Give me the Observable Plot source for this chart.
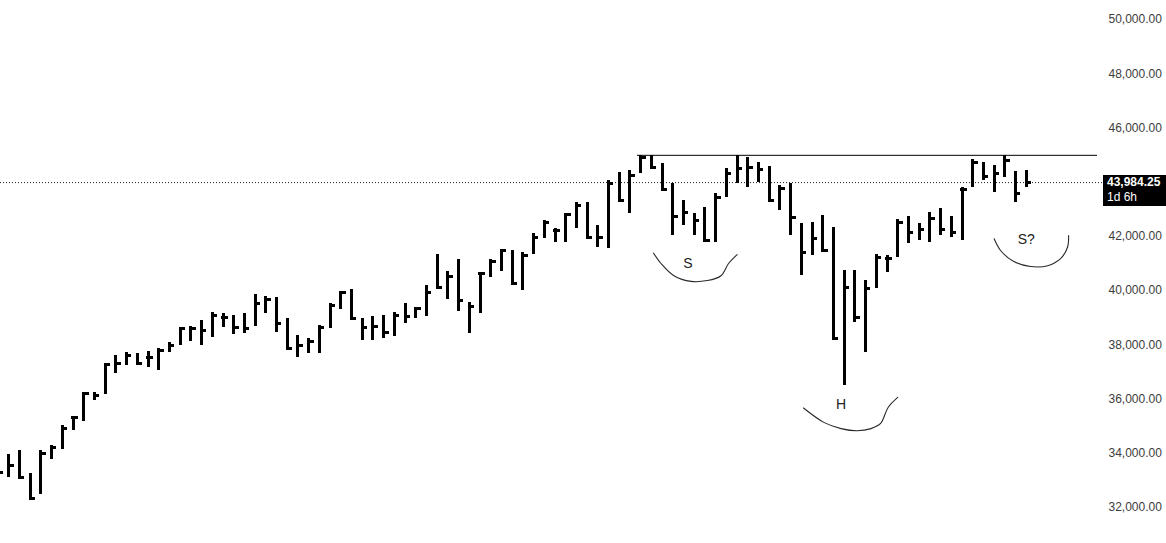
<!DOCTYPE html>
<html>
<head>
<meta charset="utf-8">
<script src="https://cdn.jsdelivr.net/npm/d3@7"></script>
<script src="https://cdn.jsdelivr.net/npm/@observablehq/plot@0.6"></script>
<style>
  html, body { margin: 0; padding: 0; background: #ffffff; }
  #wrap { position: relative; width: 1166px; height: 543px; overflow: hidden; }
  #lastbox { position: absolute; background: #000; color: #fff; font-family: "Liberation Sans", Arial, sans-serif; font-size: 12px; line-height: 15px; padding: 0 0 0 4px; box-sizing: border-box; }
</style>
</head>
<body>
<div id="wrap"></div>
<script>
// ---- data ----
const highs = [33650,33950,34100,33260,34100,34280,35020,35350,36250,36250,
  37300,37600,37720,37690,37760,37860,38080,38650,38670,38890,
  39200,39160,39080,39160,39850,39780,39750,38960,38340,38220,
  38710,39510,39970,40030,38960,39040,39080,39200,39510,39360,
  40190,41330,40710,41130,39570,40680,41130,41500,41480,41410,
  42090,42580,42280,42850,43260,43260,42400,44060,44370,44430,
  44980,44980,44680,43940,43320,42830,43070,43570,44490,44980,
  44920,44730,44580,43880,43960,42460,42520,42770,42340,40740,
  40740,40370,41350,41290,42610,42730,42480,42890,43020,42730,
  43810,44820,44730,44610,44980,44400,44430];
const lows = [33060,33110,33060,32250,32470,33760,34130,34830,35180,35940,
  36160,36950,37230,37230,37150,37050,37720,37970,38130,37970,
  38280,38650,38380,38400,38670,39160,38460,37790,37520,37690,
  37690,38590,39290,38920,38160,38160,38220,38300,38790,38960,
  39040,40030,39660,39240,38400,39140,40470,40710,40220,40000,
  41350,41910,41780,41780,42280,41910,41600,41540,43260,42830,
  44310,44490,43690,42030,42400,42030,41780,41780,43420,43940,
  43810,44000,43260,42950,42030,40550,41290,41410,38160,36500,
  38830,37720,40060,40680,41230,41720,41850,41780,42030,41970,
  41850,43810,44060,43630,44180,43260,43810];
const closes = [33300,33540,33100,32330,34000,34220,34910,35310,36190,36130,
  37270,37320,37600,37300,37540,37790,37970,38590,38590,38520,
  39080,39020,38650,38590,39510,39690,38790,37850,37970,38130,
  38650,39450,39940,38960,38650,38670,38460,39080,39040,39330,
  39940,40100,40520,39630,39410,40620,41080,41480,40250,41290,
  41970,42520,42210,42800,43140,41970,41970,43950,43320,44240,
  44920,44550,43720,42730,42890,42580,41850,43440,44310,44490,
  44530,44450,43320,43750,42710,41410,41910,41480,38220,40120,
  39020,40090,41230,41170,42520,42150,42240,42650,42240,42150,
  43720,44730,44210,44310,44800,43570,43984.25];
const yTicks = [32000,34000,36000,38000,40000,42000,46000,48000,50000];
const lastPrice = 43984.25;
const lastPriceText = "43,984.25";
const countdownText = "1d 6h";
const necklinePrice = 44990;
const necklineStartBar = 60;

// hand-drawn annotations (bar index, price)
const arcS = {i: [61.2,61.9,63.1,64.7,66.2,67.5,68.2,69.0], p: [41380,41000,40550,40340,40370,40550,41000,41330]};
const arcH = {i: [75.2,77.1,78.7,80.2,81.5,82.4,83.1,84.0], p: [35670,35140,34910,34830,34910,35100,35690,36060]};
const arcS2 = {i: [93.0,93.6,94.8,96.4,98.0,99.2,99.85,99.95], p: [41910,41480,41080,40890,40920,41180,41600,42030]};
const noteLabels = ["S", "H", "S?"];
const noteI = [64.4, 78.7, 96.0];
const notePrice = [41010, 35800, 41880];

// ---- build tables ----
const bars = highs.map((h, k) => ({i: k, high: h, low: lows[k], close: closes[k]}));
const toPts = (a, name) => a.i.map((v, k) => ({i: v, p: a.p[k], name}));
const arcs = [...toPts(arcS, "S"), ...toPts(arcH, "H"), ...toPts(arcS2, "S2")];
const notes = noteLabels.map((t, k) => ({t, i: noteI[k], p: notePrice[k]}));

const xDomain = [0.225, 102.65];
const fmt = d3.format(",.2f");

const chart = Plot.plot({
  width: 1166,
  height: 543,
  marginTop: 19,
  marginBottom: 36,
  marginLeft: 0,
  marginRight: 69,
  x: {domain: xDomain, axis: null},
  y: {domain: [32000, 50000], axis: null},
  style: {fontFamily: "'Liberation Sans', Arial, sans-serif", fontSize: "12px", background: "#ffffff", overflow: "visible"},
  marks: [
    Plot.axisY({anchor: "right", ticks: yTicks, tickSize: 0, tickPadding: 11, tickFormat: fmt, fill: "#3c3c3c", fontSize: 12}),
    Plot.ruleY([lastPrice], {x1: xDomain[0], x2: xDomain[1] + 0.6, stroke: "#222", strokeWidth: 1, strokeDasharray: "1,2"}),
    Plot.ruleY([necklinePrice], {x1: necklineStartBar - 0.3, x2: xDomain[1], stroke: "#000", strokeWidth: 1}),
    Plot.ruleX(bars, {x: "i", y1: "low", y2: "high", stroke: "#000", strokeWidth: 3, clip: true, shapeRendering: "crispEdges"}),
    Plot.ruleY(bars, {y: "close", x1: d => d.i - 0.1, x2: d => d.i + 0.5, stroke: "#000", strokeWidth: 3, clip: true, shapeRendering: "crispEdges"}),
    Plot.line(arcs, {x: "i", y: "p", z: "name", curve: "catmull-rom", stroke: "#2a2a2a", strokeWidth: 1.1}),
    Plot.text(notes, {x: "i", y: "p", text: "t", fill: "#222", fontSize: 14, fontFamily: "'Liberation Sans', Arial, sans-serif"})
  ]
});

const wrap = document.getElementById("wrap");
wrap.appendChild(chart);

// last-price label box positioned through the y scale
const yPos = chart.scale("y").apply(lastPrice);
const box = document.createElement("div");
box.id = "lastbox";
box.style.left = "1103px";
box.style.top = (yPos - 7) + "px";
box.style.width = "63px";
box.style.height = "31px";
box.innerHTML = "<div style='font-weight:bold'>" + lastPriceText + "</div><div>" + countdownText + "</div>";
wrap.appendChild(box);
</script>
</body>
</html>
